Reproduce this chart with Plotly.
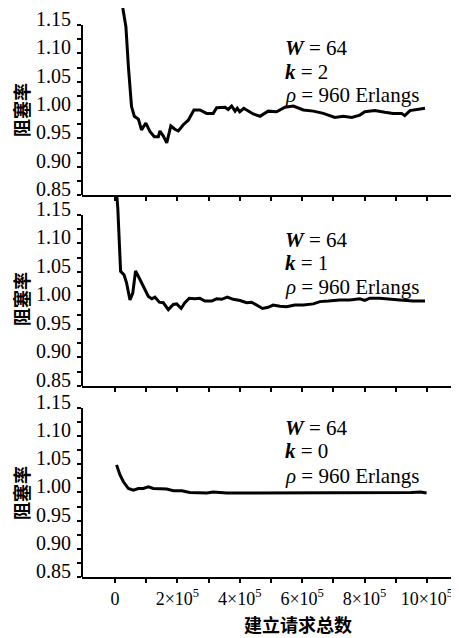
import plotly.graph_objects as go

# ---- data (x in requests, y = blocking ratio) ----
x_k2 = [0.25e5,0.35e5,0.43e5,0.53e5,0.62e5,0.75e5,0.85e5,0.99e5,1.12e5,1.26e5,1.39e5,1.44e5,1.55e5,1.66e5,1.79e5,1.92e5,2.03e5,2.19e5,2.35e5,2.53e5,2.72e5,2.94e5,3.15e5,3.26e5,3.53e5,3.63e5,3.74e5,3.85e5,3.92e5,4.0e5,4.13e5,4.43e5,4.65e5,4.91e5,5.18e5,5.45e5,5.72e5,6.04e5,6.36e5,6.68e5,7.05e5,7.32e5,7.59e5,7.85e5,8.01e5,8.33e5,8.65e5,8.92e5,9.19e5,9.29e5,9.46e5,9.72e5,9.94e5]
y_k2 = [1.180,1.147,1.076,1.006,0.989,0.984,0.965,0.977,0.962,0.953,0.953,0.963,0.954,0.942,0.972,0.966,0.963,0.974,0.982,1.000,1.000,0.994,0.994,1.004,1.005,1.001,1.007,0.998,1.003,0.997,1.003,0.993,0.989,0.998,0.997,1.005,1.007,1.000,0.998,0.994,0.987,0.989,0.987,0.991,0.997,0.999,0.996,0.994,0.994,0.990,0.999,1.001,1.003]

x_k1 = [0.05e5,0.09e5,0.18e5,0.29e5,0.37e5,0.48e5,0.57e5,0.66e5,0.78e5,0.91e5,1.07e5,1.18e5,1.28e5,1.42e5,1.55e5,1.71e5,1.87e5,1.98e5,2.12e5,2.24e5,2.38e5,2.56e5,2.72e5,2.88e5,3.10e5,3.26e5,3.42e5,3.60e5,3.79e5,4.01e5,4.22e5,4.38e5,4.54e5,4.73e5,4.91e5,5.07e5,5.29e5,5.50e5,5.77e5,6.04e5,6.36e5,6.57e5,6.84e5,7.21e5,7.53e5,7.85e5,8.01e5,8.17e5,8.49e5,8.81e5,9.13e5,9.56e5,9.94e5]
y_k1 = [1.19,1.162,1.051,1.045,1.031,1.001,1.013,1.052,1.039,1.025,1.007,1.003,1.006,0.997,0.996,0.984,0.993,0.994,0.986,0.996,1.004,1.003,1.004,0.999,0.999,1.003,1.002,1.006,1.002,1.000,0.996,0.997,0.992,0.986,0.988,0.992,0.990,0.989,0.992,0.992,0.994,0.998,0.999,1.001,1.001,1.003,1.000,1.004,1.004,1.003,1.001,0.999,0.999]

x_k0 = [0.05e5,0.16e5,0.27e5,0.43e5,0.59e5,0.75e5,0.91e5,1.07e5,1.23e5,1.44e5,1.66e5,1.87e5,2.14e5,2.40e5,2.72e5,2.94e5,3.15e5,3.58e5,4.0e5,4.5e5,5.0e5,5.5e5,6.0e5,6.5e5,7.0e5,7.5e5,8.0e5,8.5e5,9.0e5,9.5e5,9.8e5,9.99e5]
y_k0 = [1.049,1.031,1.019,1.007,1.004,1.007,1.007,1.010,1.007,1.006,1.006,1.003,1.003,1.000,0.999,0.999,1.001,0.999,0.999,0.999,1.000,0.999,1.000,1.000,1.000,1.000,1.000,1.000,1.000,1.000,1.001,0.999]

x_tickvals = [0, 2e5, 4e5, 6e5, 8e5, 10e5]
x_ticktext = ["0", "2×10<sup>5</sup>", "4×10<sup>5</sup>", "6×10<sup>5</sup>",
              "8×10<sup>5</sup>", "10×10<sup>5</sup>"]
x_minor = [1e5, 3e5, 5e5, 7e5, 9e5]
y_tickvals = [0.85, 0.90, 0.95, 1.00, 1.05, 1.10, 1.15]
y_ticktext = ["0.85", "0.90", "0.95", "1.00", "1.05", "1.10", "1.15"]
y_minor = [0.875, 0.925, 0.975, 1.025, 1.075, 1.125]

panel_labels = [("2", x_k2, y_k2), ("1", x_k1, y_k1), ("0", x_k0, y_k0)]

SERIF = "Liberation Serif"
CJK = "Noto Sans CJK SC"

fig = go.Figure()
axes_for = [("x3", "y3"), ("x2", "y2"), ("x", "y")]
for (k, xs, ys), (xa, ya) in zip(panel_labels, axes_for):
    fig.add_trace(go.Scatter(x=xs, y=ys, xaxis=xa, yaxis=ya, mode="lines",
                             line=dict(color="black", width=3), showlegend=False,
                             hoverinfo="skip"))

xcommon = dict(range=[-1.058e5, 11.03e5], tickvals=x_tickvals, ticktext=x_ticktext,
               ticks="outside", ticklen=4, tickwidth=1.5, tickcolor="black",
               showline=True, linewidth=2, linecolor="black", showgrid=False,
               zeroline=False, tickfont=dict(family=SERIF, size=18, color="black"),
               minor=dict(tickvals=x_minor, ticks="outside", ticklen=4, tickwidth=1.5,
                          tickcolor="black", showgrid=False))
ycommon = dict(tickvals=y_tickvals, ticktext=y_ticktext, ticks="outside", ticklen=4,
               tickwidth=1.5, tickcolor="black", showline=False, showgrid=False,
               zeroline=False, ticklabelshift=-6, ticklabelstandoff=2,
               tickfont=dict(family=SERIF, size=20, color="black"),
               minor=dict(tickvals=y_minor, ticks="outside", ticklen=4, tickwidth=1.5,
                          tickcolor="black", showgrid=False))

# screenshot pixel helpers (the page body adds an 8px offset)
PL, PR, PT, PB = 82, 459, 8, 577
def py(p):
    return (PB - p) / (PB - PT)
def px(p):
    return (p - PL) / (PR - PL)

b1 = py(386)
b2 = py(195)

fig.update_layout(
    width=451, height=630,
    margin=dict(l=74, r=0, t=0, b=61),
    paper_bgcolor="white", plot_bgcolor="white",
    font=dict(family=SERIF),
    xaxis=dict(**xcommon, anchor="y"),
    xaxis2=dict(**xcommon, anchor="y2", matches="x", showticklabels=False),
    xaxis3=dict(**xcommon, anchor="y3", matches="x", showticklabels=False),
    yaxis=dict(**ycommon, domain=[0, b1], range=[0.85, 1.189], anchor="x"),
    yaxis2=dict(**ycommon, domain=[b1, b2], range=[0.85, 1.185], anchor="x2"),
    yaxis3=dict(**ycommon, domain=[b2, 1], range=[0.85, 1.18], anchor="x3"),
)

for xa, ya in axes_for:
    fig.add_shape(type="line", xref=f"{xa} domain", yref=ya, x0=0, x1=0, y0=0.85, y1=1.15,
                  line=dict(color="black", width=2))

text_rows = [(48, 72, 95, "2"), (240, 263, 287, "1"), (428, 451, 476, "0")]
for yw, yk, yr, k in text_rows:
    for yy, txt in [(yw, "<b><i>W</i></b> = 64"), (yk, f"<b><i>k</i></b> = {k}"),
                    (yr, "<i>ρ</i> = 960 Erlangs")]:
        fig.add_annotation(xref="paper", yref="paper", x=px(283), y=py(yy), text=txt,
                           showarrow=False, xanchor="left", yanchor="middle",
                           font=dict(family=SERIF, size=21, color="black"))

for yc in [110, 299, 493]:
    fig.add_annotation(xref="paper", yref="paper", x=px(21), y=py(yc), text="<b>阻塞率</b>",
                       textangle=-90, showarrow=False, xanchor="center", yanchor="middle",
                       font=dict(family=CJK, size=18, color="black"))

fig.add_annotation(xref="paper", yref="paper", x=px(298), y=py(624), text="<b>建立请求总数</b>",
                   showarrow=False, xanchor="center", yanchor="middle", borderpad=0,
                   font=dict(family=CJK, size=18, color="black"))

fig.write_html("out.html")
